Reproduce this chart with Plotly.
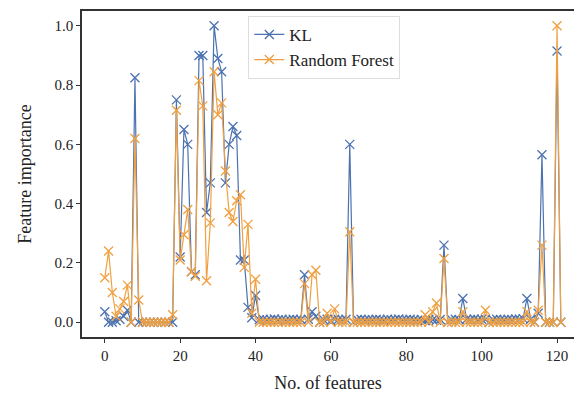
import plotly.graph_objects as go

# Feature index 0..121
features = list(range(122))

kl_importance = [
    0.035, 0.0, 0.0, 0.005, 0.01, 0.02, 0.04, 0.0, 0.825, 0.0,        # 0-9
    0.0, 0.0, 0.0, 0.0, 0.0, 0.0, 0.0, 0.0, 0.0, 0.75,                # 10-19
    0.22, 0.65, 0.60, 0.17, 0.16, 0.90, 0.90, 0.37, 0.47, 1.0,        # 20-29
    0.89, 0.845, 0.47, 0.60, 0.66, 0.63, 0.21, 0.21, 0.05, 0.015,     # 30-39
    0.09, 0.008, 0.01, 0.007, 0.009, 0.011, 0.008, 0.01, 0.007, 0.009,  # 40-49
    0.01, 0.008, 0.009, 0.16, 0.01, 0.035, 0.02, 0.0, 0.009, 0.01,    # 50-59
    0.005, 0.01, 0.009, 0.008, 0.01, 0.60, 0.0, 0.009, 0.01, 0.008,   # 60-69
    0.009, 0.008, 0.01, 0.009, 0.007, 0.01, 0.008, 0.009, 0.011, 0.008,  # 70-79
    0.009, 0.01, 0.008, 0.007, 0.009, 0.005, 0.01, 0.008, 0.006, 0.009,  # 80-89
    0.26, 0.0, 0.009, 0.01, 0.008, 0.08, 0.01, 0.009, 0.011, 0.008,   # 90-99
    0.01, 0.009, 0.0, 0.008, 0.01, 0.009, 0.008, 0.01, 0.009, 0.011,  # 100-109
    0.01, 0.012, 0.08, 0.01, 0.0, 0.03, 0.565, 0.0, 0.0, 0.0,         # 110-119
    0.915, 0.0,                                                        # 120-121
]

rf_importance = [
    0.15, 0.24, 0.10, 0.02, 0.045, 0.07, 0.125, 0.0, 0.62, 0.075,     # 0-9
    0.0, 0.0, 0.0, 0.0, 0.0, 0.0, 0.0, 0.0, 0.025, 0.715,             # 10-19
    0.21, 0.295, 0.38, 0.17, 0.155, 0.815, 0.73, 0.14, 0.335, 0.845,  # 20-29
    0.70, 0.74, 0.51, 0.37, 0.34, 0.41, 0.43, 0.185, 0.33, 0.03,      # 30-39
    0.145, 0.0, 0.0, 0.0, 0.0, 0.0, 0.0, 0.0, 0.0, 0.0,               # 40-49
    0.0, 0.0, 0.0, 0.13, 0.0, 0.16, 0.175, 0.0, 0.0, 0.03,            # 50-59
    0.0, 0.045, 0.0, 0.0, 0.0, 0.305, 0.0, 0.0, 0.0, 0.0,             # 60-69
    0.0, 0.0, 0.0, 0.0, 0.0, 0.0, 0.0, 0.0, 0.0, 0.0,                 # 70-79
    0.0, 0.0, 0.0, 0.0, 0.0, 0.025, 0.0, 0.035, 0.065, 0.0,           # 80-89
    0.215, 0.0, 0.0, 0.0, 0.0, 0.035, 0.0, 0.0, 0.0, 0.0,             # 90-99
    0.0, 0.04, 0.0, 0.0, 0.0, 0.0, 0.0, 0.0, 0.0, 0.0,                # 100-109
    0.0, 0.0, 0.035, 0.0, 0.0, 0.04, 0.26, 0.0, 0.0, 0.0,             # 110-119
    1.0, 0.0,                                                          # 120-121
]

x_ticks = [0, 20, 40, 60, 80, 100, 120]
y_ticks = [0.0, 0.2, 0.4, 0.6, 0.8, 1.0]

BLUE = "#4c72b0"
ORANGE = "#f0a040"
SERIF = "Liberation Serif, Times New Roman, serif"

fig = go.Figure()
for name, vals, col in [("KL", kl_importance, BLUE),
                        ("Random Forest", rf_importance, ORANGE)]:
    fig.add_trace(go.Scatter(
        x=features, y=vals, name=name, mode="lines+markers",
        line=dict(color=col, width=1.2),
        marker=dict(symbol="x-thin", size=9, color=col,
                    line=dict(color=col, width=1.3)),
    ))

fig.update_layout(
    width=574, height=394,
    margin=dict(l=82, r=0, t=11, b=57),
    paper_bgcolor="white", plot_bgcolor="white",
    font=dict(family=SERIF, size=15, color="#222"),
    showlegend=True,
    legend=dict(
        x=0.338, y=0.985, xanchor="left", yanchor="top",
        bgcolor="rgba(255,255,255,0.9)", bordercolor="#dddddd", borderwidth=1,
        font=dict(family=SERIF, size=17, color="#222"),
    ),
)
fig.update_xaxes(
    range=[-6.05, 124.5], tickvals=x_ticks,
    ticktext=[str(v) for v in x_ticks],
    showgrid=False, zeroline=False,
    showline=True, linecolor="#333", linewidth=1.5, mirror=True,
    ticks="outside", ticklen=4, tickcolor="#333",
    tickfont=dict(family=SERIF, size=15),
    title=dict(text="No. of features", font=dict(family=SERIF, size=18), standoff=14),
)
fig.update_yaxes(
    range=[-0.05, 1.05], tickvals=y_ticks,
    ticktext=[f"{v:.1f}" for v in y_ticks],
    showgrid=False, zeroline=False,
    showline=True, linecolor="#333", linewidth=1.5,
    ticks="outside", ticklen=4, tickcolor="#333",
    tickfont=dict(family=SERIF, size=15),
    title=dict(text="Feature importance", font=dict(family=SERIF, size=18), standoff=18),
)

fig.write_html("out.html")
